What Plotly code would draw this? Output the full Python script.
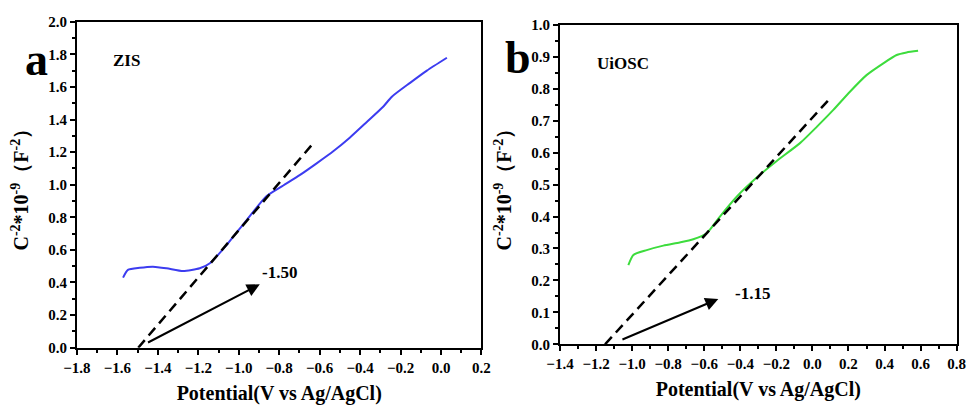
import plotly.graph_objects as go

# ---- Panel a: ZIS ----
zis_x = [-1.572, -1.548, -1.49, -1.424, -1.357, -1.275, -1.193, -1.143, -1.06, -0.961,
         -0.862, -0.78, -0.697, -0.615, -0.533, -0.45, -0.367, -0.285, -0.243, -0.153, -0.07, 0.029]
zis_y = [0.43, 0.477, 0.49, 0.497, 0.487, 0.47, 0.487, 0.518, 0.63, 0.783,
         0.93, 0.995, 1.06, 1.131, 1.205, 1.29, 1.385, 1.48, 1.54, 1.625, 1.70, 1.779]
zis_fit_x = [-1.497, -0.628]
zis_fit_y = [0.0, 1.26]
zis_arrow = {"tail": (-1.456, 0.027), "head": (-0.896, 0.389)}
zis_label = "-1.50"

# ---- Panel b: UiOSC ----
uio_x = [-1.021, -0.993, -0.919, -0.827, -0.736, -0.661, -0.586, -0.513, -0.42, -0.309,
         -0.198, -0.069, 0.024, 0.116, 0.208, 0.3, 0.393, 0.467, 0.522, 0.586]
uio_y = [0.248, 0.28, 0.295, 0.309, 0.319, 0.329, 0.348, 0.4, 0.462, 0.522,
         0.574, 0.63, 0.681, 0.734, 0.791, 0.843, 0.88, 0.906, 0.914, 0.919]
uio_fit_x = [-1.15, 0.094]
uio_fit_y = [0.0, 0.768]
uio_arrow = {"tail": (-1.062, 0.013), "head": (-0.522, 0.142)}
uio_label = "-1.15"

FONT = "Times New Roman, Liberation Serif, DejaVu Serif, serif"
BLUE = "#3c3cf0"
GREEN = "#3ddc3d"

def f(size):
    return dict(family=FONT, size=size, color="black", weight="bold")

fig = go.Figure()
fig.add_trace(go.Scatter(x=zis_x, y=zis_y, mode="lines", line=dict(color=BLUE, width=2, shape="spline", smoothing=0.6),
                         xaxis="x", yaxis="y", showlegend=False))
fig.add_trace(go.Scatter(x=zis_fit_x, y=zis_fit_y, mode="lines",
                         line=dict(color="black", width=2.5, dash="10px,6px"),
                         xaxis="x", yaxis="y", showlegend=False))
fig.add_trace(go.Scatter(x=uio_x, y=uio_y, mode="lines", line=dict(color=GREEN, width=2, shape="spline", smoothing=0.6),
                         xaxis="x2", yaxis="y2", showlegend=False))
fig.add_trace(go.Scatter(x=uio_fit_x, y=uio_fit_y, mode="lines",
                         line=dict(color="black", width=2.5, dash="10px,6px"),
                         xaxis="x2", yaxis="y2", showlegend=False))

def xax(domain, rng, anchor):
    return dict(domain=domain, range=rng, anchor=anchor, dtick=0.2, tick0=0, tickformat=".1f",
                showline=True, mirror=True, linecolor="black", linewidth=2,
                ticks="outside", ticklen=5, tickwidth=2, tickcolor="black",
                minor=dict(ticks="outside", ticklen=3, tickwidth=1.5, tickcolor="black", dtick=0.1),
                showgrid=False, zeroline=False, tickfont=f(15), automargin=False,
                title=dict(text="Potential(V vs Ag/AgCl)", font=f(20), standoff=11))

def yax(domain, rng, anchor, dt):
    return dict(domain=domain, range=rng, anchor=anchor, dtick=dt, tick0=0, tickformat=".1f",
                showline=True, mirror=True, linecolor="black", linewidth=2,
                ticks="outside", ticklen=5, tickwidth=2, tickcolor="black",
                minor=dict(ticks="outside", ticklen=3, tickwidth=1.5, tickcolor="black", dtick=dt / 2),
                showgrid=False, zeroline=False, tickfont=f(15), automargin=False,
                title=dict(text="C<sup>-2</sup>*10<sup>-9</sup>（F<sup>-2</sup>）",
                           font=f(20), standoff=14))

annotations = []
for xr, yr, arr in [("x", "y", zis_arrow), ("x2", "y2", uio_arrow)]:
    annotations.append(dict(xref=xr, yref=yr, axref=xr, ayref=yr,
                            x=arr["head"][0], y=arr["head"][1], ax=arr["tail"][0], ay=arr["tail"][1],
                            showarrow=True, arrowhead=2, arrowsize=1.3, arrowwidth=2, arrowcolor="black", text=""))
annotations.append(dict(xref="x", yref="y", x=zis_arrow["head"][0], y=0.46, text=zis_label,
                        showarrow=False, xanchor="left", font=f(17)))
annotations.append(dict(xref="x2", yref="y2", x=-0.44, y=0.16, text=uio_label,
                        showarrow=False, xanchor="left", font=f(17)))
annotations.append(dict(xref="x", yref="y", x=-1.555, y=1.765, text="ZIS",
                        showarrow=False, font=f(17)))
annotations.append(dict(xref="x2", yref="y2", x=-1.049, y=0.88, text="UiOSC",
                        showarrow=False, font=f(17)))
annotations.append(dict(xref="paper", yref="paper", x=0.024, y=0.921, text="a",
                        showarrow=False, font=f(46)))
annotations.append(dict(xref="paper", yref="paper", x=0.535, y=0.925, text="b",
                        showarrow=False, font=f(46)))

fig.update_layout(
    width=968, height=405,
    margin=dict(l=0, r=0, t=0, b=0, autoexpand=False),
    paper_bgcolor="white", plot_bgcolor="white",
    xaxis=xax([0.0795, 0.4974], [-1.8, 0.2], "y"),
    yaxis=yax([0.1415, 0.9464], [0, 2.0], "x", 0.2),
    xaxis2=xax([0.5785, 0.9883], [-1.4, 0.8], "y2"),
    yaxis2=yax([0.1499, 0.9383], [0, 1.0], "x2", 0.1),
    annotations=annotations,
)

fig.write_html("out.html")
